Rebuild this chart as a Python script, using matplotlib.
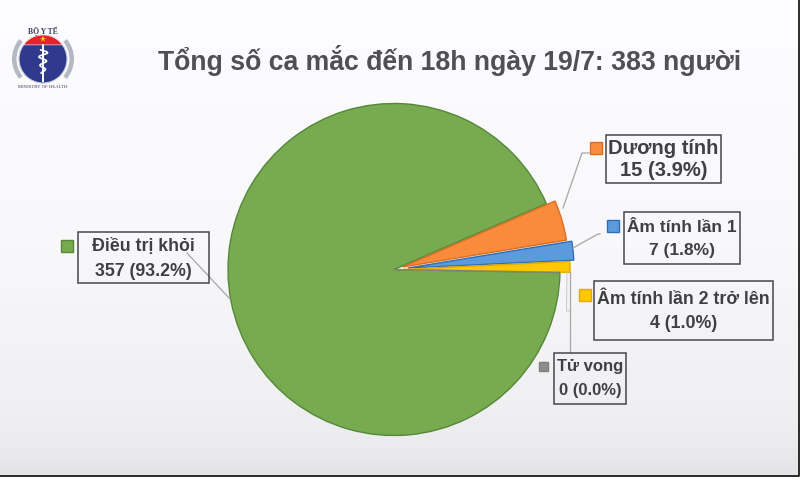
import matplotlib
matplotlib.use("Agg")
import matplotlib.pyplot as plt
from matplotlib.patches import Circle, Wedge, Rectangle, Polygon
import numpy as np

plt.rcParams['font.family'] = ['Liberation Sans', 'DejaVu Sans']

title = "Tổng số ca mắc đến 18h ngày 19/7: 383 người"
categories = ["Dương tính", "Âm tính lần 1", "Âm tính lần 2 trở lên", "Tử vong", "Điều trị khỏi"]
values = [15, 7, 4, 0, 357]
percent_labels = ["15 (3.9%)", "7 (1.8%)", "4 (1.0%)", "0 (0.0%)", "357 (93.2%)"]
colors = ["#F98B3C", "#5B9BDD", "#FFC800", "#8C8C8C", "#78AB50"]
edges = ["#D96F20", "#2F6DB5", "#E0A800", "#808080", "#55873A"]

fig = plt.figure(figsize=(8, 5), dpi=100, facecolor="white")
ax = fig.add_axes([0, 0, 1, 1])

# slide background
stops_y = [0, 250, 400, 445, 475]
stops_c = [0xFD, 0xF8, 0xF0, 0xEC, 0xE4]
grad = np.interp(np.arange(476), stops_y, stops_c) / 255.0
ax.imshow(np.c_[grad, grad, np.minimum(grad + 0.008, 1)].reshape(476, 1, 3),
          extent=(0, 798, 475, 0), aspect="auto", zorder=0)

offsets = [9, 14, 10, 0, 0]
wedges, _ = ax.pie(values, startangle=-23.4, counterclock=True, radius=166,
                   center=(394, 269.5), explode=offsets, frame=False,
                   colors=colors, wedgeprops=dict(linewidth=1.0))
for i, (w, e) in enumerate(zip(wedges, edges)):
    w.set_edgecolor(e)
    w.set_zorder(2 if i == 4 else 2.5)
ax.set_xlim(0, 800)
ax.set_ylim(500, 0)
ax.set_aspect("auto")
ax.axis("off")

# slide border
ax.plot([0, 798.5, 798.5], [475.5, 475.5, 0], color="#1A1A1A", lw=1.3, zorder=6)

# Title
ax.text(449.5, 60, title, fontsize=19.2, fontweight="bold", color="#505054",
        ha="center", va="center")

# Leader lines
leader = "#A6A6A6"
ax.plot([563, 582, 589], [208, 153, 153], color=leader, lw=0.9, zorder=3)
ax.plot([573, 598, 600], [248, 234, 234], color=leader, lw=0.9, zorder=3)
ax.plot([569.5, 569.5], [272, 352], color=leader, lw=0.9, zorder=3)
ax.plot([567, 566.5, 569.5], [272, 311, 311], color="#C8C8C8", lw=0.7, zorder=3)
ax.plot([187, 230], [253, 299], color=leader, lw=0.9, zorder=3)

# Labels: box (x0, y0, x1, y1), square marker (cx, cy, size), line centres
boxes = [(606, 135, 721, 183), (624, 212, 740, 264), (594, 281, 773, 340),
         (554, 353, 626, 404), (78, 232, 209, 283)]
markers = [(596, 148, 12), (613, 226, 12), (584.5, 295, 12), (543.5, 366.5, 9), (67, 245.5, 12)]
lines_y = [(148, 171), (227, 251), (300, 323), (367, 391), (247, 271)]
fonts = [14.5, 12.5, 12.8, 12, 12.8]
for i, cat in enumerate(categories):
    x0, y0, x1, y1 = boxes[i]
    ax.add_patch(Rectangle((x0, y0), x1 - x0, y1 - y0, facecolor="none",
                           edgecolor="#46464C", lw=1.1, zorder=4))
    cx, cy, s = markers[i]
    ax.add_patch(Rectangle((cx - s / 2, cy - s / 2), s, s, facecolor=colors[i],
                           edgecolor=edges[i], lw=1.0, zorder=4))
    ax.text((x0 + x1) / 2, lines_y[i][0], cat, fontsize=fonts[i], fontweight="bold",
            color="#3F3F46", ha="center", va="center", zorder=5)
    ax.text((x0 + x1) / 2, lines_y[i][1], percent_labels[i], fontsize=fonts[i], fontweight="bold",
            color="#3F3F46", ha="center", va="center", zorder=5)

# Ministry of Health logo
lx, ly = 43, 59
ax.add_patch(Circle((lx, ly), 24, facecolor="#2F3A8F", edgecolor="#C9CCD6", lw=0.8, zorder=3))
ang = np.radians(np.linspace(36, 144, 40))
ax.add_patch(Polygon(np.c_[lx + 24 * np.cos(ang), ly - 24 * np.sin(ang)],
                     facecolor="#E3242B", edgecolor="white", lw=0.4, zorder=4))
ax.plot([lx], [ly - 20], marker="*", ms=5, color="#FFD400", mew=0, zorder=5)
for a, b in [(140, 220), (-40, 40)]:
    ax.add_patch(Wedge((lx, ly), 31, a, b, width=4.5,
                       facecolor="#B4B8C4", edgecolor="none", zorder=2))
ax.plot([lx, lx], [ly - 14, ly + 22], color="white", lw=1.4, zorder=5)
sy = np.linspace(ly - 9, ly + 14, 40)
ax.plot(lx + 5 * np.sin((sy - ly) * 0.75) * (1 - (sy - ly + 9) / 40), sy,
        color="white", lw=1.2, zorder=5)
ax.text(lx, ly - 27.5, "BỘ Y TẾ", fontsize=5.5, fontweight="bold", family="Liberation Serif",
        color="#3A3A5A", ha="center", va="center", zorder=5)
ax.text(lx, ly + 27.5, "MINISTRY OF HEALTH", fontsize=3.4, family="Liberation Serif",
        color="#3A3A5A", ha="center", va="center", zorder=5)

fig.savefig("out.png", dpi=100, facecolor="white")
